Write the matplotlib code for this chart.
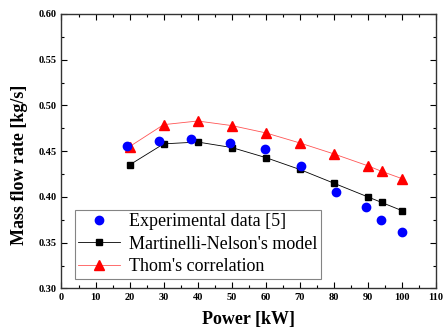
import matplotlib.pyplot as plt
from matplotlib.ticker import MultipleLocator

# measured points
exp_power = [19.1, 28.6, 38.0, 49.4, 59.9, 70.2, 80.5, 89.4, 93.9, 99.9]
exp_flow = [0.456, 0.461, 0.463, 0.459, 0.452, 0.434, 0.405, 0.389, 0.375, 0.362]

model_power = [20, 30, 40, 50, 60, 70, 80, 90, 94, 100]
martinelli_flow = [0.435, 0.458, 0.460, 0.454, 0.443, 0.430, 0.415, 0.400, 0.394, 0.385]
thom_flow = [0.455, 0.479, 0.483, 0.478, 0.470, 0.459, 0.447, 0.434, 0.428, 0.420]

plt.rcParams['font.family'] = ['Liberation Serif', 'DejaVu Serif']

fig = plt.figure(figsize=(4.44, 3.33), dpi=100)
ax = fig.add_axes([0.1385, 0.134, 0.8435, 0.824])

ax.plot(exp_power, exp_flow, 'o', color='#0000ff', markersize=6,
        label='Experimental data [5]', zorder=4)
ax.plot(model_power, martinelli_flow, 's-', color='black', lw=0.6,
        markersize=5, label="Martinelli-Nelson's model", zorder=3)
ax.plot(model_power, thom_flow, '^-', color='#ff5555', lw=0.6,
        markersize=7, markerfacecolor='#ff0000', markeredgecolor='#ff0000',
        label="Thom's correlation", zorder=3)

ax.set_xlim(0, 110)
ax.set_ylim(0.30, 0.60)
ax.xaxis.set_major_locator(MultipleLocator(10))
ax.xaxis.set_minor_locator(MultipleLocator(5))
ax.yaxis.set_major_locator(MultipleLocator(0.05))
ax.yaxis.set_minor_locator(MultipleLocator(0.025))
ax.yaxis.set_major_formatter(plt.FuncFormatter(lambda v, p: f"{v:.2f}"))

ax.tick_params(which='both', direction='in', top=True, right=True,
               labelsize=7.5, width=0.8)
ax.tick_params(which='major', length=4)
ax.tick_params(which='minor', length=2)
for lab in ax.get_xticklabels() + ax.get_yticklabels():
    lab.set_fontweight('bold')
for sp in ax.spines.values():
    sp.set_linewidth(1.0)
    sp.set_color('#333333')

ax.set_xlabel('Power [kW]', fontsize=13, fontweight='bold', labelpad=6)
ax.set_ylabel('Mass flow rate [kg/s]', fontsize=13, fontweight='bold')
ax.yaxis.set_label_coords(-0.09, 0.45)

leg = ax.legend(loc='lower left', bbox_to_anchor=(0.035, 0.035), fontsize=13,
                frameon=True, fancybox=False, edgecolor='#666666',
                handlelength=2.3, borderpad=0.2, labelspacing=0.3,
                handletextpad=0.5, borderaxespad=0)
leg.get_frame().set_linewidth(0.8)

fig.savefig('out.png', dpi=100)
